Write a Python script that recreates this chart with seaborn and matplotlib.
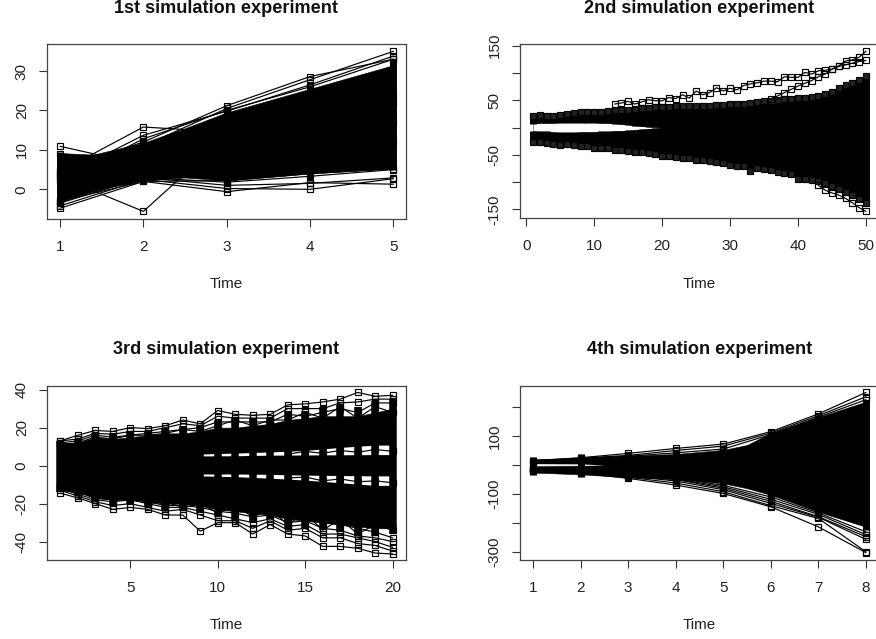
import matplotlib
matplotlib.use("Agg")
import matplotlib.pyplot as plt
import pandas as pd
import seaborn as sns

W, H = 876, 639
INK = "#000000"

titles = ["1st simulation experiment", "2nd simulation experiment",
          "3rd simulation experiment", "4th simulation experiment"]
xlabel = "Time"

# ---- panel 1 ----
p1_xticks = [1, 2, 3, 4, 5]
p1_yticks = [0, 10, 20, 30]
p1_yticklabels = ["0", "10", "20", "30"]
p1_env_t = [1, 1.4, 2, 2.5, 3, 4, 5]
p1_env_hi = [9.2, 8.8, 11.8, 15.5, 19.5, 25.5, 31.5]
p1_env_lo = [-3.2, -0.3, 2.3, 3.0, 2.2, 4.0, 5.3]
p1_col_t = [1, 2, 3, 4, 5]
p1_col_lo = [-4, 2, 1, 2, 5]
p1_col_hi = [9.5, 13, 20, 26.5, 33]
p1_t = [1, 2, 3, 4, 5]
p1_runs = [
    [10.9, 6.2, 9.0, 13.0, 17.0],
    [4.5, 15.8, 14.5, 20.0, 24.0],
    [5.0, 12.0, 21.2, 28.6, 33.0],
    [4.0, 11.0, 20.5, 27.8, 35.0],
    [3.0, 13.7, 19.8, 26.5, 33.8],
    [2.0, 12.8, 20.0, 26.0, 33.0],
    [3.1, -5.6, 13.5, 18.0, 22.0],
    [-4.8, 2.0, -0.6, 1.7, 1.3],
    [-4.2, 2.5, 0.2, 0.0, 2.7],
    [-3.5, 3.0, 1.0, 1.5, 2.9],
    [-3.0, 3.0, 1.8, 3.3, 5.0],
    [-3.0, 2.0, 2.2, 4.0, 5.2],
    [9.0, 2.4, 6.0, 9.0, 12.0],
]

# ---- panel 2 ----
p2_xticks = [0, 10, 20, 30, 40, 50]
p2_yticks = [-150, -100, -50, 0, 50, 100, 150]
p2_yticklabels = ["-150", "", "-50", "", "50", "", "150"]
p2_t = list(range(1, 51))
p2_hi = [21, 23, 22, 22, 23, 24, 26, 28, 28, 29,
         29, 30, 32, 33, 33, 34, 35, 36, 37, 38,
         38, 39, 39, 39, 39, 40, 40, 42, 42, 43,
         44, 44, 45, 46, 48, 49, 50, 52, 53, 54,
         54, 56, 58, 62, 66, 72, 78, 81, 88, 94]
p2_lo = [-26, -27, -28, -30, -32, -31, -32, -34, -34, -37,
         -37, -38, -42, -41, -43, -44, -45, -46, -49, -52,
         -52, -54, -55, -56, -59, -59, -62, -64, -66, -69,
         -71, -71, -80, -74, -76, -78, -81, -84, -86, -94,
         -94, -96, -98, -102, -108, -112, -118, -124, -132, -138]
p2_gap_t = list(range(1, 21))
p2_gap_hi = [7, 8, 8, 8, 9, 9, 9, 9, 9, 9, 8, 8, 7, 6, 5, 3, 2, 1, 0.5, 0]
p2_gap_lo = [-6, -7, -7, -8, -9, -9, -9, -8, -8, -8, -7, -7, -6, -6, -5, -4, -3, -2, -1, 0]
p2_out1_t = list(range(13, 51))
p2_out1 = [43, 45, 48, 43, 47, 51, 49, 49, 55, 53, 60, 54, 67, 60, 64, 73, 67, 72, 69, 77,
           80, 82, 85, 85, 84, 93, 92, 92, 101, 98, 104, 105, 107, 113, 122, 124, 129, 140]
p2_out2_t = list(range(36, 51))
p2_out2 = [53, 58, 64, 70, 76, 81, 86, 93, 98, 107, 112, 115, 118, 121, 123]
p2_out3_t = list(range(43, 51))
p2_out3 = [-106, -115, -120, -124, -130, -138, -147, -154]

# ---- panel 3 ----
p3_xticks = [5, 10, 15, 20]
p3_yticks = [-40, -20, 0, 20, 40]
p3_yticklabels = ["-40", "-20", "0", "20", "40"]
p3_t = list(range(1, 21))
p3_hi = [12, 12, 15, 14, 15, 16, 17, 17, 18, 20, 20, 21, 22, 24, 25, 26, 26, 26, 28, 30]
p3_lo = [-13, -14, -17, -18, -18, -19, -20, -20, -21, -23, -24, -25, -26, -28, -29, -30, -31, -32, -33, -33]
p3_col_hi = [13, 14, 17, 17, 18, 18, 20, 21, 21, 24, 25, 25, 25, 29, 29, 31, 32, 31, 34, 35]
p3_col_lo = [-14, -16, -19, -21, -20, -22, -24, -24, -25, -27, -29, -30, -28, -33, -33, -34, -35, -37, -37, -36]
p3_slit_t = [9, 11, 13, 15, 17, 19, 20]
p3_slitA_lo = [5.1, 5.2, 5.5, 5.6, 5.7, 5.8, 5.8]
p3_slitA_hi = [6.1, 6.6, 7.2, 8.0, 9.6, 10.8, 10.8]
p3_slitB_lo = [-5.4, -5.8, -6.6, -7.6, -9.0, -10.4, -10.4]
p3_slitB_hi = [-4.4, -4.4, -4.6, -5.0, -5.2, -5.4, -5.4]
p3_runs = [
    [13, 16, 18.5, 18, 20, 19.5, 21, 24, 22, 29, 27, 26.5, 27, 32, 32.5, 33.5, 35, 38.5, 36.5, 37],
    [13, 14, 17, 16.5, 18, 18, 20, 22, 21, 26, 25, 25, 25, 30, 30, 30, 33, 33.5, 35, 35],
    [12, 13, 16, 15, 16, 17, 18, 19, 20, 23, 23, 23, 23, 27, 26, 28, 30, 28, 33, 33],
    [11, 12, 15, 14, 16, 16, 17, 19, 18, 21, 24, 21, 24, 24, 28, 25, 31, 25, 31, 28],
    [-14.5, -17, -20, -23, -22, -23, -26, -26, -34.5, -30, -30, -36, -31, -36, -37, -42.5, -42.5, -43.5, -46, -46.5],
    [-13, -16, -19, -21, -20, -22, -24, -23, -26, -29, -29, -33, -29, -34, -33, -38, -38, -41, -42, -45],
    [-12, -15, -18, -19, -18, -20, -22, -22, -24, -26, -28, -30, -28, -32, -31, -36, -36, -38, -40, -43],
    [-12, -14, -17, -18, -17, -19, -21, -21, -22, -24, -25, -27, -26, -30, -29, -33, -34, -37, -38, -40],
    [-11, -13, -16, -17, -16, -18, -20, -20, -21, -23, -22, -25, -25, -28, -27, -30, -31, -33, -35, -38],
    [-11, -12, -15, -18, -15, -20, -19, -22, -20, -25, -21, -27, -23, -31, -25, -34, -28, -36, -31, -34],
]
p3_cross_t = [14, 15, 16, 17, 18, 19, 20]
p3_cross = [
    [6, 7.5, 6.5, 8, 7, 8.5, 7.5],
    [-6.5, -6, -8, -7, -8.5, -8, -9],
]

# ---- panel 4 ----
p4_xticks = [1, 2, 3, 4, 5, 6, 7, 8]
p4_yticks = [-300, -200, -100, 0, 100, 200]
p4_yticklabels = ["-300", "", "-100", "", "100", ""]
p4_t = [1, 2, 3, 4, 5, 6, 7, 8]
p4_env_t = [1, 2, 3, 4, 5, 5.5, 6, 7, 8]
p4_env_hi = [20, 24, 32, 38, 52, 69, 110, 165, 218]
p4_env_lo = [-26, -32, -42, -48, -63, -80, -103, -161, -213]
p4_col_hi = [28, 38, 40, 48, 60, 115, 172, 225]
p4_col_lo = [-34, -40, -50, -58, -75, -120, -175, -225]
p4_slit_t = [1, 2, 2.5]
p4_slit_hi = [5, 4, 0]
p4_slit_lo = [-3, -2, 0]
p4_runs = [
    [15, 25, 40, 57, 72, 115, 176, 250],
    [14, 24, 33, 50, 65, 110, 170, 235],
    [12, 22, 30, 42, 55, 105, 165, 225],
    [-20, -28, -46, -69, -98, -144, -213, -302],
    [-18, -26, -42, -62, -92, -140, -184, -299],
    [-16, -25, -38, -55, -85, -132, -180, -256],
    [-15, -24, -36, -50, -80, -125, -178, -247],
    [-14, -22, -34, -48, -75, -118, -170, -240],
    [-13, -20, -32, -45, -70, -110, -165, -230],
]

sns.set_style("ticks")
plt.rcParams["font.family"] = ["Liberation Sans", "DejaVu Sans"]


def make_axes(fig, left, right, top, bottom):
    return fig.add_axes([left / W, 1 - bottom / H, (right - left) / W, (bottom - top) / H])


def draw_runs(ax, series, face="none"):
    rows = [{"run": i, "time": t, "value": v}
            for i, (ts, vs) in enumerate(series) for t, v in zip(ts, vs)]
    sns.lineplot(data=pd.DataFrame(rows), x="time", y="value", units="run", estimator=None,
                 color=INK, linewidth=0.85, marker="s", markersize=4.4,
                 markerfacecolor=face, markeredgecolor="#000000", markeredgewidth=0.85,
                 ax=ax, legend=False, zorder=5)


def style(ax, xlim, ylim, xticks, yticks, yticklabels, title, title_px_y):
    ax.set_xlim(*xlim)
    ax.set_ylim(*ylim)
    ax.set_xticks(xticks)
    ax.set_xticklabels([str(v) for v in xticks])
    ax.set_yticks(yticks)
    ax.set_yticklabels(yticklabels, rotation=90, va="center")
    ax.tick_params(axis="both", length=5.6, width=0.8, color="#333333", labelsize=11,
                   labelcolor="#222222")
    ax.tick_params(axis="x", pad=9.5)
    ax.tick_params(axis="y", pad=7.5)
    for s in ax.spines.values():
        s.set_color("#444444")
        s.set_linewidth(0.9)
        s.set_visible(True)
    ax.set_ylabel("")
    ax.set_xlabel(xlabel, fontsize=11, color="#222222", labelpad=17)
    box = ax.get_position()
    fig.text(box.x0 + box.width / 2, 1 - title_px_y / H, title, fontsize=13.1, fontweight="bold",
             ha="center", va="center", color="#111111")


fig = plt.figure(figsize=(W / 100, H / 100), dpi=100)
fig.patch.set_facecolor("white")

COLW = 5.0

# panel 1
ax = make_axes(fig, 47, 406, 44, 218.6)
ax.fill_between(p1_env_t, p1_env_lo, p1_env_hi, color="black", lw=0.4, zorder=3)
ax.vlines(p1_col_t, p1_col_lo, p1_col_hi, color="black", lw=COLW, zorder=4)
draw_runs(ax, [(p1_t, r) for r in p1_runs])
style(ax, (0.844, 5.15), (-7.43, 36.85), p1_xticks, p1_yticks, p1_yticklabels, titles[0], 8.5)

# panel 2
ax = make_axes(fig, 519.7, 879.3, 44.3, 218.3)
ax.fill_between(p2_t, p2_lo, p2_hi, color="black", lw=0.4, zorder=3)
ax.fill_between(p2_gap_t, p2_gap_lo, p2_gap_hi, color="white", lw=0, zorder=3.5)
ax.vlines(p2_gap_t, p2_gap_hi, p2_hi[:20], color="black", lw=COLW, zorder=4)
ax.vlines(p2_gap_t, p2_lo[:20], p2_gap_lo, color="black", lw=COLW, zorder=4)
ax.vlines(p2_t[20:], p2_lo[20:], p2_hi[20:], color="black", lw=COLW, zorder=4)
draw_runs(ax, [(p2_t, p2_hi), (p2_t, p2_lo)], face="#222222")
draw_runs(ax, [(p2_out1_t, p2_out1), (p2_out2_t, p2_out2), (p2_out3_t, p2_out3)])
style(ax, (-0.96, 51.96), (-166.5, 152.6), p2_xticks, p2_yticks, p2_yticklabels, titles[1], 8.5)

# panel 3
ax = make_axes(fig, 47, 406, 386, 559.7)
ax.fill_between(p3_t, p3_lo, p3_hi, color="black", lw=0.4, zorder=3)
ax.fill_between(p3_slit_t, p3_slitA_lo, p3_slitA_hi, color="white", lw=0, zorder=3.5)
ax.fill_between(p3_slit_t, p3_slitB_lo, p3_slitB_hi, color="white", lw=0, zorder=3.5)
ax.vlines(p3_t, p3_col_lo, p3_col_hi, color="black", lw=5.4, zorder=4)
draw_runs(ax, [(p3_t, r) for r in p3_runs])
draw_runs(ax, [(p3_cross_t, r) for r in p3_cross], face="#000000")
style(ax, (0.24, 20.76), (-49.5, 41.9), p3_xticks, p3_yticks, p3_yticklabels, titles[2], 350)

# panel 4
ax = make_axes(fig, 519.7, 879.3, 386, 559.7)
ax.fill_between(p4_env_t, p4_env_lo, p4_env_hi, color="black", lw=0.4, zorder=3)
ax.fill_between(p4_slit_t, p4_slit_lo, p4_slit_hi, color="#eeeeee", lw=0, zorder=3.5)
ax.vlines(p4_t, p4_col_lo, p4_col_hi, color="black", lw=COLW, zorder=4)
draw_runs(ax, [(p4_t, r) for r in p4_runs])
style(ax, (0.72, 8.28), (-326, 272), p4_xticks, p4_yticks, p4_yticklabels, titles[3], 350)

fig.savefig("out.png", dpi=100)
